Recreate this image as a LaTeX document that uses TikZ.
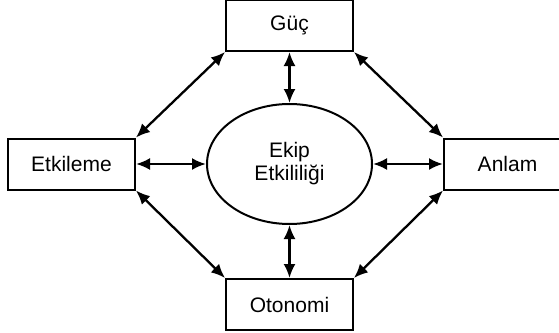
\documentclass[tikz,border=0pt]{standalone}
\usepackage{fontspec}
\setmainfont{Liberation Sans}
\usetikzlibrary{shapes.geometric,positioning,arrows.meta}

\begin{document}
\begin{tikzpicture}[x=1pt,y=1pt,
      every node/.style={draw=black,line width=2pt,inner sep=0pt,
                         font=\fontsize{21}{23}\selectfont,text centered},
      box/.style={rectangle,minimum width=127pt,minimum height=51pt},
      core/.style={ellipse,minimum width=165pt,minimum height=120pt,align=center},
      link/.style={draw,line width=2.3pt,{Latex[length=14pt,width=12pt]}-{Latex[length=14pt,width=12pt]}},
    ]
      \useasboundingbox (0,0) rectangle (559,-332);
      \node[core] (ekip) at (289.5,-164) {Ekip\\Etkililiği};
      \node[box, above=51pt of ekip] (guc) {Güç};
      \node[box, left=70pt of ekip] (etkileme) {Etkileme};
      \node[box, right=70pt of ekip] (anlam) {Anlam};
      \node[box, below=53pt of ekip] (otonomi) {Otonomi};
      % spokes to the centre
      \path (guc) edge[link] (ekip);
      \path (etkileme) edge[link] (ekip);
      \path (anlam) edge[link] (ekip);
      \path (otonomi) edge[link] (ekip);
      % ring between the corners
      \path (etkileme.north east) edge[link] (guc.south west);
      \path (guc.south east) edge[link] (anlam.north west);
      \path (anlam.south west) edge[link] (otonomi.north east);
      \path (otonomi.north west) edge[link] (etkileme.south east);
    \end{tikzpicture}
\end{document}
